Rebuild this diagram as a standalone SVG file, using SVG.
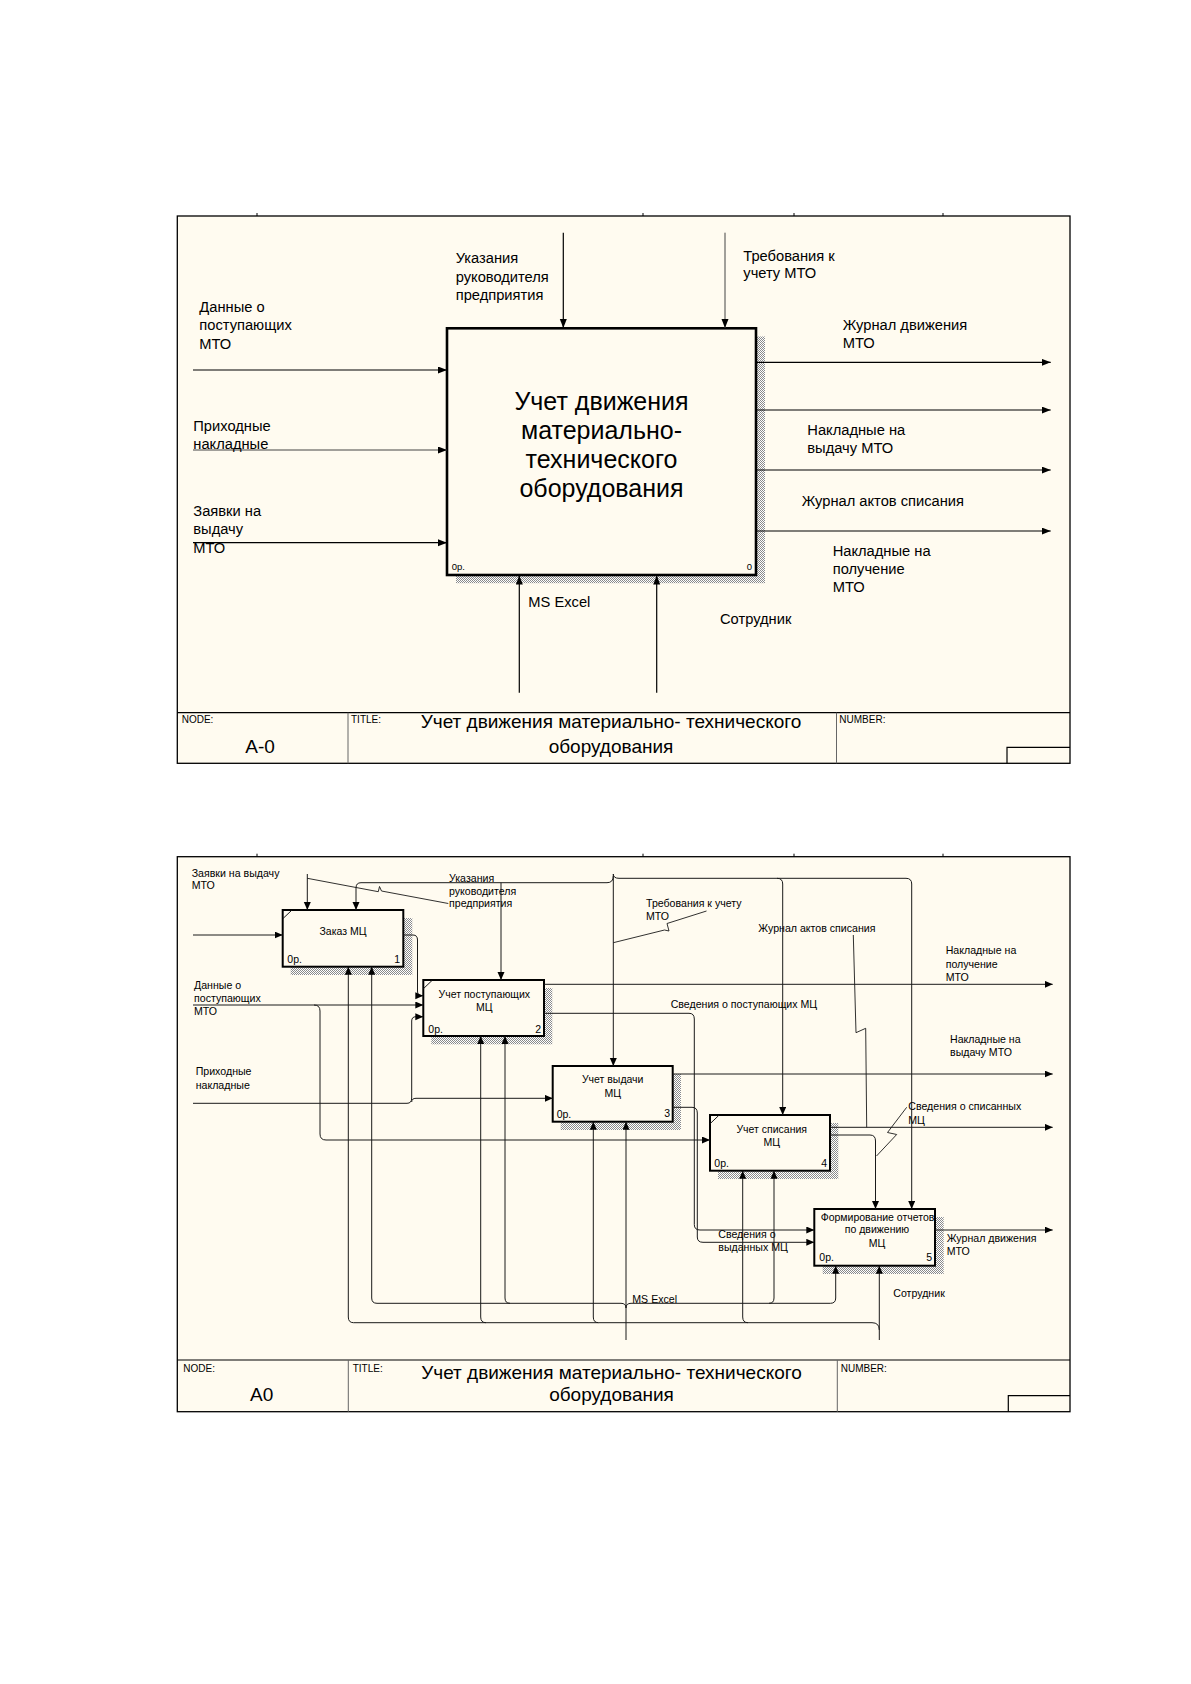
<svg xmlns="http://www.w3.org/2000/svg" width="1191" height="1684" viewBox="0 0 1191 1684">
<style>
text{font-family:"Liberation Sans",Arial,sans-serif;fill:#000}
.frame{fill:#fffbf0;stroke:#000;stroke-width:1.3}
.tb{stroke:#000;stroke-width:1.2;fill:none}
.tbg{stroke:#666;stroke-width:1;fill:none}
.tick{stroke:#000;stroke-width:1}
.bigbox{fill:#fffbf0;stroke:#000;stroke-width:2.6}
.box{fill:#fffbf0;stroke:#000;stroke-width:2}
.shadow{fill:url(#hatch)}
.c0{fill:none;stroke:#000;stroke-width:1.2}
.c0g{fill:none;stroke:#444;stroke-width:1}
.c{fill:none;stroke:#1a1a1a;stroke-width:1}
.sq{fill:none;stroke:#1a1a1a;stroke-width:0.9}
.a0l{marker-end:url(#ahL)}
.a{marker-end:url(#ah)}
.l1{font-size:14.7px}
.l0{font-size:10.6px}
.bx{font-size:10.5px;text-anchor:middle}
.bigt{font-size:25px;text-anchor:middle}
.op{font-size:10.5px}
.op9{font-size:9.5px}
.num{font-size:10.5px;text-anchor:end}
.hd{font-size:10px}
.tt{font-size:19px;text-anchor:middle}
.nd{font-size:19px;text-anchor:middle}
</style>
<defs>
<pattern id="hatch" width="2" height="2" patternUnits="userSpaceOnUse">
<rect width="2" height="2" fill="#ffffff"/>
<rect width="1" height="1" fill="#8a8a8a"/>
<rect x="1" y="1" width="1" height="1" fill="#8a8a8a"/>
</pattern>
<marker id="ahL" markerWidth="10" markerHeight="8" refX="9" refY="3.5" orient="auto" markerUnits="userSpaceOnUse">
<path d="M0,0 L9,3.5 L0,7 z" fill="#000"/>
</marker>
<marker id="ah" markerWidth="9" markerHeight="8" refX="8" refY="3.5" orient="auto" markerUnits="userSpaceOnUse">
<path d="M0,0 L8,3.5 L0,7 z" fill="#000"/>
</marker>
</defs>
<rect width="1191" height="1684" fill="#ffffff"/>

<!-- ================= A-0 diagram ================= -->
<g id="frame-a-0">
<rect class="frame" x="177.3" y="216" width="892.7" height="547.3"/>
<line class="tick" x1="257" y1="213" x2="257" y2="216"/>
<line class="tick" x1="643" y1="213" x2="643" y2="216"/>
<line class="tick" x1="794" y1="213" x2="794" y2="216"/>
<line class="tick" x1="943" y1="213" x2="943" y2="216"/>
<line class="tb" x1="177.3" y1="712.7" x2="1070" y2="712.7"/>
<line class="tbg" x1="348" y1="712.7" x2="348" y2="763.3"/>
<line class="tbg" x1="836.5" y1="712.7" x2="836.5" y2="763.3"/>
<polyline class="tb" points="1070,747.3 1007,747.3 1007,763.3"/>
<text class="hd" x="181.7" y="723">NODE:</text>
<text class="nd" x="260" y="752.5">A-0</text>
<text class="hd" x="351" y="723">TITLE:</text>
<text class="tt" x="611" y="727.5">Учет движения материально- технического</text>
<text class="tt" x="611" y="752.5">оборудования</text>
<text class="hd" x="839.3" y="723">NUMBER:</text>
</g>

<g id="node-a0-main">
<rect class="shadow" x="456" y="336.5" width="309" height="246.7"/>
<rect class="bigbox" x="447" y="328.3" width="309" height="246.7"/>
<text class="bigt" x="601.5" y="410">Учет движения</text>
<text class="bigt" x="601.5" y="439">материально-</text>
<text class="bigt" x="601.5" y="468">технического</text>
<text class="bigt" x="601.5" y="497">оборудования</text>
<text class="op9" x="451.7" y="570">0р.</text>
<text class="op9" x="752" y="570" text-anchor="end">0</text>
</g>

<g id="connectors-a-0">
<path class="c0 a0l" d="M193,370 H447"/>
<path class="c0g a0l" d="M193,450 H447"/>
<path class="c0 a0l" d="M193,542.7 H447"/>
<path class="c0 a0l" d="M563.3,232.7 V328"/>
<path class="c0g a0l" d="M725,232.7 V328"/>
<path class="c0 a0l" d="M756,362.3 H1050.7"/>
<path class="c0 a0l" d="M756,410 H1050.7"/>
<path class="c0 a0l" d="M756,470 H1050.7"/>
<path class="c0 a0l" d="M756,531 H1050.7"/>
<path class="c0 a0l" d="M519.3,692.7 V575.5"/>
<path class="c0 a0l" d="M656.7,692.7 V575.5"/>
</g>

<g id="labels-a-0">
<text class="l1" x="455.7" y="263">Указания</text>
<text class="l1" x="455.7" y="281.5">руководителя</text>
<text class="l1" x="455.7" y="299.5">предприятия</text>
<text class="l1" x="743.3" y="260.7">Требования к</text>
<text class="l1" x="743.3" y="277.7">учету МТО</text>
<text class="l1" x="199.3" y="311.5">Данные о</text>
<text class="l1" x="199.3" y="330">поступающих</text>
<text class="l1" x="199.3" y="348.5">МТО</text>
<text class="l1" x="193.3" y="430.7">Приходные</text>
<text class="l1" x="193.3" y="449">накладные</text>
<text class="l1" x="193.3" y="515.5">Заявки на</text>
<text class="l1" x="193.3" y="534">выдачу</text>
<text class="l1" x="193.3" y="552.5">МТО</text>
<text class="l1" x="842.7" y="330">Журнал движения</text>
<text class="l1" x="842.7" y="348.3">МТО</text>
<text class="l1" x="807.3" y="435">Накладные на</text>
<text class="l1" x="807.3" y="453.3">выдачу МТО</text>
<text class="l1" x="801.7" y="506">Журнал актов списания</text>
<text class="l1" x="832.7" y="555.7">Накладные на</text>
<text class="l1" x="832.7" y="573.7">получение</text>
<text class="l1" x="832.7" y="592">МТО</text>
<text class="l1" x="528.3" y="606.5">MS Excel</text>
<text class="l1" x="720" y="624.3">Сотрудник</text>
</g>

<!-- ================= A0 diagram ================= -->
<g id="frame-a0">
<rect class="frame" x="177.3" y="856.7" width="892.7" height="555"/>
<line class="tick" x1="257" y1="853.7" x2="257" y2="856.7"/>
<line class="tick" x1="643" y1="853.7" x2="643" y2="856.7"/>
<line class="tick" x1="794" y1="853.7" x2="794" y2="856.7"/>
<line class="tick" x1="943" y1="853.7" x2="943" y2="856.7"/>
<line class="tb" x1="177.3" y1="1360" x2="1070" y2="1360"/>
<line class="tbg" x1="348.3" y1="1360" x2="348.3" y2="1411.7"/>
<line class="tbg" x1="837.3" y1="1360" x2="837.3" y2="1411.7"/>
<polyline class="tb" points="1070,1395.7 1008.3,1395.7 1008.3,1411.7"/>
<text class="hd" x="183.3" y="1371.7">NODE:</text>
<text class="nd" x="261.7" y="1400.7">A0</text>
<text class="hd" x="352.7" y="1371.7">TITLE:</text>
<text class="tt" x="611.5" y="1378.5">Учет движения материально- технического</text>
<text class="tt" x="611.5" y="1401">оборудования</text>
<text class="hd" x="840.7" y="1371.7">NUMBER:</text>
</g>

<g id="node-1">
<rect class="shadow" x="290.7" y="918" width="121.6" height="57"/>
<rect class="box" x="282.7" y="910" width="120.6" height="56.7"/>
<line class="c" x1="283" y1="918.5" x2="291.5" y2="910.5"/>
<text class="bx" x="343" y="935">Заказ МЦ</text>
<text class="op" x="287.3" y="962.7">0р.</text>
<text class="num" x="400" y="962.7">1</text>
</g>

<g id="node-2">
<rect class="shadow" x="431.3" y="988" width="121" height="56.3"/>
<rect class="box" x="423.3" y="980" width="120.7" height="56"/>
<line class="c" x1="423.6" y1="988.5" x2="432" y2="980.5"/>
<text class="bx" x="484.3" y="998.3">Учет поступающих</text>
<text class="bx" x="484.3" y="1010.7">МЦ</text>
<text class="op" x="428.3" y="1032.7">0р.</text>
<text class="num" x="541" y="1032.7">2</text>
</g>

<g id="node-3">
<rect class="shadow" x="560.7" y="1074" width="120.3" height="56"/>
<rect class="box" x="552.7" y="1066" width="120" height="55.7"/>
<text class="bx" x="612.7" y="1083.3">Учет выдачи</text>
<text class="bx" x="612.7" y="1097.3">МЦ</text>
<text class="op" x="556.7" y="1118.3">0р.</text>
<text class="num" x="670" y="1117.3">3</text>
</g>

<g id="node-4">
<rect class="shadow" x="718" y="1123" width="120.3" height="56"/>
<rect class="box" x="710" y="1115" width="120" height="55.7"/>
<line class="c" x1="710.3" y1="1123.5" x2="718.7" y2="1115.5"/>
<text class="bx" x="771.7" y="1133.3">Учет списания</text>
<text class="bx" x="771.7" y="1146">МЦ</text>
<text class="op" x="714.3" y="1167.3">0р.</text>
<text class="num" x="827" y="1167.3">4</text>
</g>

<g id="node-5">
<rect class="shadow" x="822.7" y="1217" width="121" height="57"/>
<rect class="box" x="814.3" y="1209" width="120.7" height="56.7"/>
<text class="bx" x="877.5" y="1220.7">Формирование отчетов</text>
<text class="bx" x="877" y="1232.7">по движению</text>
<text class="bx" x="877" y="1246.7">МЦ</text>
<text class="op" x="819.3" y="1260.7">0р.</text>
<text class="num" x="932" y="1261">5</text>
</g>

<g id="connectors-a0">
<!-- controls -->
<path class="c a" d="M307.3,874 V910"/>
<path class="c a" d="M613.3,874 V1066"/>
<path class="c a" d="M613.3,876 Q613.3,882.7 607,882.7 H361 Q356,882.7 356,888 V910"/>
<path class="c a" d="M501,882.7 V980"/>
<path class="c a" d="M613.3,874 Q613.3,878.3 619,878.3 H906 Q911.7,878.3 911.7,884 V1209"/>
<path class="c a" d="M777,878.3 Q782.7,878.3 782.7,884 V1115"/>
<!-- inputs -->
<path class="c a" d="M193,935 H282.7"/>
<path class="c a" d="M403.3,935 H413 Q417.5,935 417.5,940 V991 Q417.5,995.7 421,995.7 H423.3"/>
<path class="c a" d="M193,1005 H423.3"/>
<path class="c a" d="M314,1005 Q320,1005 320,1011 V1134 Q320,1140 326,1140 H710"/>
<path class="c a" d="M193,1103.3 H407 Q411.7,1103.3 411.7,1098 V1021 Q411.7,1016.7 416,1016.7 H423.3"/>
<path class="c a" d="M411.7,1102 Q411.7,1098.3 416,1098.3 H552.7"/>
<!-- outputs -->
<path class="c a" d="M544,984.3 H1052.7"/>
<path class="c a" d="M544,1013.3 H689 Q694.3,1013.3 694.3,1019 V1224.5 Q694.3,1230 700,1230 H814.3"/>
<path class="c a" d="M672.7,1074 H1052.7"/>
<path class="c a" d="M672.7,1107.3 H692 Q697.3,1107.3 697.3,1113 V1237 Q697.3,1242.3 703,1242.3 H814.3"/>
<path class="c a" d="M830,1127.3 H1052.7"/>
<path class="c a" d="M830,1135 H870 Q875.5,1135 875.5,1141 V1209"/>
<path class="c a" d="M935,1230 H1052.7"/>
<!-- mechanisms: MS Excel -->
<path class="c a" d="M626,1340 V1121.7"/>
<path class="c a" d="M626,1308 Q626,1303.3 621,1303.3 H377 Q371.7,1303.3 371.7,1298 V966.7"/>
<path class="c a" d="M510,1303.3 Q505,1303.3 505,1298 V1036"/>
<path class="c a" d="M626,1308 Q626,1303.3 631,1303.3 H769 Q774,1303.3 774,1298 V1170.7"/>
<path class="c a" d="M769,1303.3 H830.5 Q835.7,1303.3 835.7,1298 V1265.7"/>
<!-- mechanisms: Сотрудник -->
<path class="c a" d="M879.3,1340 V1265.7"/>
<path class="c a" d="M879.3,1330 Q879.3,1322.7 872,1322.7 H748 Q742.7,1322.7 742.7,1317 V1170.7"/>
<path class="c a" d="M748,1322.7 H598.5 Q593.3,1322.7 593.3,1317 V1121.7"/>
<path class="c a" d="M598.5,1322.7 H486 Q480.7,1322.7 480.7,1317 V1036"/>
<path class="c a" d="M486,1322.7 H353.5 Q348.3,1322.7 348.3,1317 V966.7"/>
<!-- label squiggles -->
<polyline class="sq" points="307.3,878.3 378.3,891.7 379.5,886.5 381.5,891 448.3,903.5"/>
<polyline class="sq" points="706.5,911 667,923.5 669,931 664.5,930 613.3,942.7"/>
<polyline class="sq" points="853.3,935 856,1032.7 865.7,1028.3 866.7,1127.3"/>
<polyline class="sq" points="906.7,1107.3 887.5,1132.5 896.7,1134.5 876.5,1156"/>
</g>

<g id="labels-a0">
<text class="l0" x="191.7" y="876.7">Заявки на выдачу</text>
<text class="l0" x="191.7" y="889.3">МТО</text>
<text class="l0" x="449" y="882.3">Указания</text>
<text class="l0" x="449" y="895">руководителя</text>
<text class="l0" x="449" y="907.3">предприятия</text>
<text class="l0" x="646" y="907.3">Требования к учету</text>
<text class="l0" x="646" y="920">МТО</text>
<text class="l0" x="758.3" y="931.7">Журнал актов списания</text>
<text class="l0" x="945.7" y="954.3">Накладные на</text>
<text class="l0" x="945.7" y="968.3">получение</text>
<text class="l0" x="945.7" y="980.7">МТО</text>
<text class="l0" x="194" y="989">Данные о</text>
<text class="l0" x="194" y="1002">поступающих</text>
<text class="l0" x="194" y="1015">МТО</text>
<text class="l0" x="670.7" y="1008.3">Сведения о поступающих МЦ</text>
<text class="l0" x="950" y="1043.3">Накладные на</text>
<text class="l0" x="950" y="1056">выдачу МТО</text>
<text class="l0" x="195.7" y="1075.3">Приходные</text>
<text class="l0" x="195.7" y="1089.3">накладные</text>
<text class="l0" x="908.3" y="1110">Сведения о списанных</text>
<text class="l0" x="908.3" y="1124">МЦ</text>
<text class="l0" x="718.3" y="1238.3">Сведения о</text>
<text class="l0" x="718.3" y="1250.7">выданных МЦ</text>
<text class="l0" x="946.7" y="1241.7">Журнал движения</text>
<text class="l0" x="946.7" y="1255">МТО</text>
<text class="l0" x="893.3" y="1296.7">Сотрудник</text>
<text class="l0" x="632.3" y="1302.7">MS Excel</text>
</g>
</svg>
